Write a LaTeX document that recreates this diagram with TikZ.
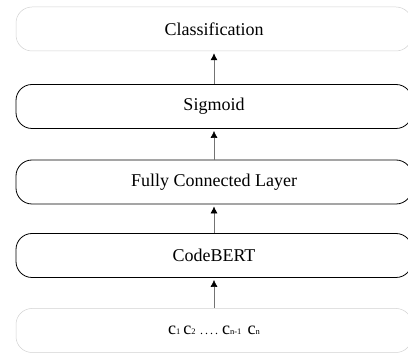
\documentclass[tikz,border=0pt]{standalone}
\usepackage{fontspec}
\setmainfont{Liberation Serif}
\usepackage{tikz}
\usetikzlibrary{arrows.meta}
\usetikzlibrary{positioning}

\newcommand{\tok}[1]{{\fontsize{18}{18}\selectfont c}{\fontsize{8.5}{8.5}\selectfont #1}}

\begin{document}
\begin{tikzpicture}[x=1pt, y=1pt,
  layer/.style={rectangle, rounded corners=16pt, draw=black, line width=0.8pt,
    minimum width=396pt, minimum height=44pt, inner sep=0pt,
    font=\fontsize{18}{18}\selectfont},
  io/.style={layer, draw=black!18, line width=0.5pt},
  flow/.style={-{Latex[length=7pt, width=7pt, black]}, draw=black!55, line width=0.6pt,
    shorten >=2pt}]
\useasboundingbox (0, 0) rectangle (408, 354);
\node [io] (Cls) at (214, 325) {Classification};
\node [layer] (Sig) at (214, 247.5) {Sigmoid};
\node [layer] (FC) at (214, 172) {Fully Connected Layer};
\node [layer] (CB) at (214, 98.5) {CodeBERT};
\node [io] (In) at (214, 23.5) {\tok{1}\,\tok{2} \fontsize{12}{12}\selectfont .\,.\,.\,. \tok{n-1}\; \tok{n}};
\draw [flow] (Sig) to (Cls);
\draw [flow] (FC) to (Sig);
\draw [flow] (CB) to (FC);
\draw [flow] (In) to (CB);
\end{tikzpicture}
\end{document}
